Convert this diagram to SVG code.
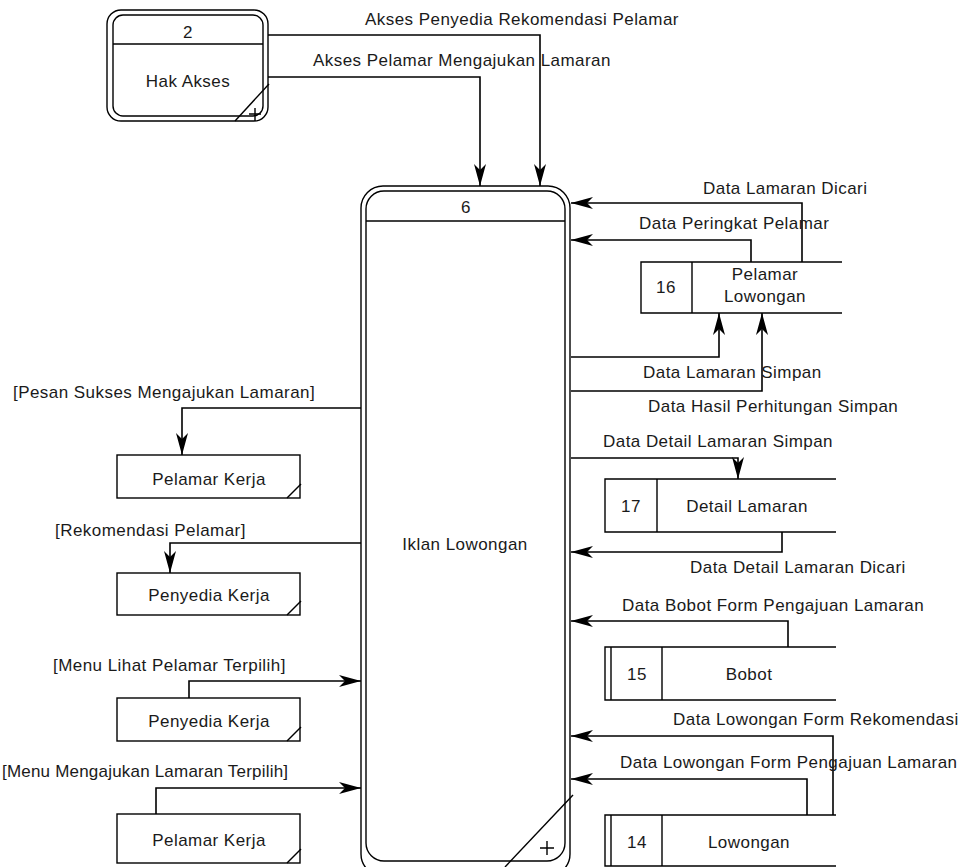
<svg xmlns="http://www.w3.org/2000/svg" width="963" height="867" viewBox="0 0 963 867">
<style>
text{font-family:"Liberation Sans",Arial,sans-serif;font-size:17px;letter-spacing:0.45px;fill:#1a1a1a}
.c{text-anchor:middle}
.e{text-anchor:end}
.b{fill:#fff;stroke:#000;stroke-width:1.4}
.n{fill:none;stroke:#000;stroke-width:1.4}
.a{fill:none;stroke:#000;stroke-width:1.6;marker-end:url(#ah)}
</style>
<defs>
<marker id="ah" markerUnits="userSpaceOnUse" markerWidth="24" markerHeight="14" viewBox="-23 -7 24 14" refX="0" refY="0" orient="auto">
<path d="M0,0 L-22,-6 L-16,0 L-22,6 Z" fill="#000"/>
</marker>
</defs>
<rect width="963" height="867" fill="#fff"/>

<g id="connectors">
<path class="a" d="M268,35 H540 V186"/>
<path class="a" d="M268,77 H480 V186"/>
<path class="a" d="M802,262 V203 H571"/>
<path class="a" d="M751,262 V240 H571"/>
<path class="a" d="M571,357 H719 V313"/>
<path class="a" d="M571,391 H762 V313"/>
<path class="a" d="M571,458 H738 V479"/>
<path class="a" d="M782,532 V552 H571"/>
<path class="a" d="M788,647 V621 H571"/>
<path class="a" d="M833,815 V736 H571"/>
<path class="a" d="M807,815 V779 H571"/>
<path class="a" d="M361,408 H182 V455"/>
<path class="a" d="M361,543 H170 V573"/>
<path class="a" d="M189,698 V681 H361"/>
<path class="a" d="M156,814 V788 H361"/>
<text x="365" y="25">Akses Penyedia Rekomendasi Pelamar</text>
<text x="313" y="66">Akses Pelamar Mengajukan Lamaran</text>
<text x="703" y="194">Data Lamaran Dicari</text>
<text x="639" y="229">Data Peringkat Pelamar</text>
<text x="643" y="378">Data Lamaran Simpan</text>
<text x="648" y="412">Data Hasil Perhitungan Simpan</text>
<text x="603" y="447">Data Detail Lamaran Simpan</text>
<text x="690" y="573">Data Detail Lamaran Dicari</text>
<text x="622" y="611">Data Bobot Form Pengajuan Lamaran</text>
<text x="673" y="725">Data Lowongan Form Rekomendasi</text>
<text x="620" y="768">Data Lowongan Form Pengajuan Lamaran</text>
<text x="13" y="398">[Pesan Sukses Mengajukan Lamaran]</text>
<text x="55" y="536">[Rekomendasi Pelamar]</text>
<text x="53" y="671">[Menu Lihat Pelamar Terpilih]</text>
<text x="2" y="777" style="letter-spacing:0.2px">[Menu Mengajukan Lamaran Terpilih]</text>
</g>

<g id="process-2">
<rect class="b" x="107" y="10" width="161" height="111" rx="14"/>
<rect class="n" x="113" y="15" width="150" height="101" rx="10"/>
<line class="n" x1="113" y1="44" x2="263" y2="44"/>
<line class="n" x1="235" y1="121" x2="269" y2="84"/>
<path class="n" d="M255,108 V121 M249,114 H261"/>
<text class="c" x="188" y="38">2</text>
<text class="c" x="188" y="87">Hak Akses</text>
</g>

<g id="process-6">
<rect class="b" x="361" y="186" width="209" height="690" rx="22"/>
<rect class="n" x="366" y="191" width="199" height="670" rx="18"/>
<line class="n" x1="366" y1="221" x2="565" y2="221"/>
<line class="n" x1="505" y1="867" x2="573" y2="795"/>
<path class="n" d="M547,841 V855 M540,848 H554"/>
<text class="c" x="466" y="213">6</text>
<text class="c" x="465" y="550">Iklan Lowongan</text>
</g>

<g id="store-16">
<path class="n" d="M842,262 H641 V313 H842 M692,262 V313"/>
<text class="c" x="666" y="293">16</text>
<text class="c" x="765" y="280">Pelamar</text>
<text class="c" x="765" y="302">Lowongan</text>
</g>

<g id="store-17">
<path class="n" d="M836,479 H605 V532 H836 M657,479 V532"/>
<text class="c" x="631" y="512">17</text>
<text class="c" x="747" y="512">Detail Lamaran</text>
</g>

<g id="store-15">
<path class="n" d="M836,647 H605 V700 H836 M611,647 V700 M662,647 V700"/>
<text class="c" x="637" y="680">15</text>
<text class="c" x="749" y="680">Bobot</text>
</g>

<g id="store-14">
<path class="n" d="M836,815 H605 V866 H836 M611,815 V866 M662,815 V866"/>
<text class="c" x="637" y="848">14</text>
<text class="c" x="749" y="848">Lowongan</text>
</g>

<g id="entity-pelamar-kerja-1">
<rect class="b" x="117" y="455" width="183" height="43"/>
<line class="n" x1="287" y1="498" x2="301" y2="484"/>
<text class="c" x="209" y="485">Pelamar Kerja</text>
</g>

<g id="entity-penyedia-kerja-1">
<rect class="b" x="117" y="573" width="183" height="42"/>
<line class="n" x1="287" y1="615" x2="301" y2="601"/>
<text class="c" x="209" y="601">Penyedia Kerja</text>
</g>

<g id="entity-penyedia-kerja-2">
<rect class="b" x="117" y="698" width="183" height="43"/>
<line class="n" x1="287" y1="741" x2="301" y2="727"/>
<text class="c" x="209" y="727">Penyedia Kerja</text>
</g>

<g id="entity-pelamar-kerja-2">
<rect class="b" x="117" y="814" width="183" height="49"/>
<line class="n" x1="287" y1="863" x2="301" y2="849"/>
<text class="c" x="209" y="846">Pelamar Kerja</text>
</g>
</svg>
